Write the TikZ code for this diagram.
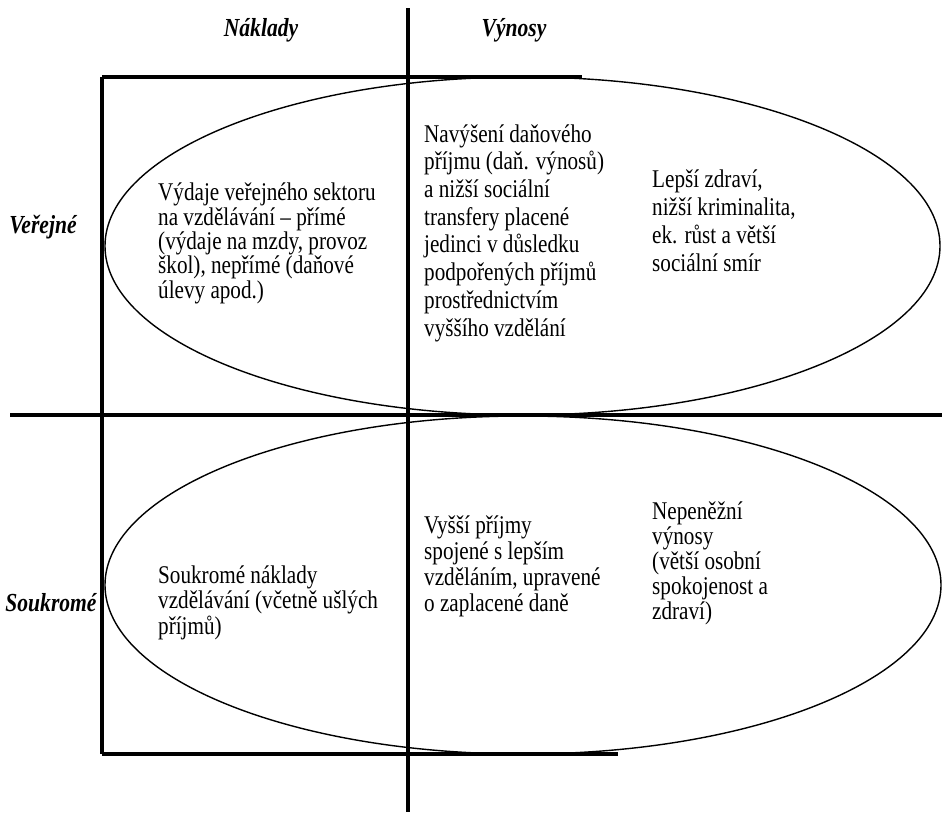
\documentclass[tikz,border=0pt]{standalone}
\usepackage{fontspec}
\setmainfont{Liberation Serif}[FakeStretch=0.83]
\usepackage{tikz}

\tikzset{
  txt/.style={anchor=base west, align=left, inner sep=0pt, font=\fontsize{25.5}{#1}\selectfont},
  head/.style={inner sep=0pt, font=\fontsize{26}{28}\selectfont\bfseries\itshape}
}

\begin{document}
\begin{tikzpicture}[x=1pt, y=-1pt]
\useasboundingbox (0,0) rectangle (942,812);

\draw[line width=3.5pt] (408,8)--(408,812);
\draw[line width=3.5pt] (102,77)--(582,77);
\draw[line width=3.5pt] (102,77)--(102,754);
\draw[line width=3.5pt] (102,754)--(618,754);
\draw[line width=3.5pt] (10,415)--(942,415);

\draw[line width=1.4pt] (522.5,246) ellipse [x radius=417.5pt, y radius=169pt];
\draw[line width=1.4pt] (523,585) ellipse [x radius=418pt, y radius=169pt];

\node[head] (naklady) at (261,30) {Náklady};
\node[head] (vynosy) at (514,30) {Výnosy};
\node[head] (verejne) at (43,227) {Veřejné};
\node[head] (soukrome) at (51,603) {Soukromé};

% base anchor = baseline of the last line
\node[txt=24.3] (pubCost) at (158,298) {Výdaje veřejného sektoru\\na vzdělávání – přímé\\(výdaje na mzdy, provoz\\škol), nepřímé (daňové\\úlevy apod.)};
\node[txt=27.7] (pubGain) at (424,336) {Navýšení daňového\\příjmu (daň. výnosů)\\a nižší sociální\\transfery placené\\jedinci v důsledku\\podpořených příjmů\\prostřednictvím\\vyššího vzdělání};
\node[txt=28] (pubExt) at (652,271) {Lepší zdraví,\\nižší kriminalita,\\ek. růst a větší\\sociální smír};

\node[txt=25.5] (privCost) at (158,634) {Soukromé náklady\\vzdělávání (včetně ušlých\\příjmů)};
\node[txt=26] (privGain) at (424,611) {Vyšší příjmy\\spojené s lepším\\vzděláním, upravené\\o zaplacené daně};
\node[txt=25] (privExt) at (652,619) {Nepeněžní\\výnosy\\(větší osobní\\spokojenost a\\zdraví)};

\end{tikzpicture}
\end{document}
